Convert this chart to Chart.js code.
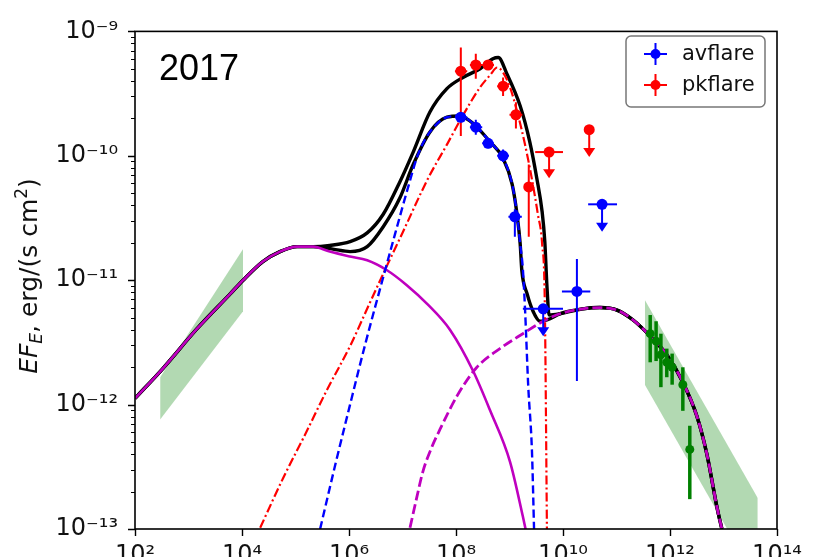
<!DOCTYPE html>
<html>
<head>
<meta charset="utf-8">
<script src="https://cdn.jsdelivr.net/npm/chart.js@4.4.0/dist/chart.umd.min.js"></script>
<style>
  html, body { margin: 0; padding: 0; background: #fff; overflow: hidden; }
  #wrap { width: 815px; height: 600px; }
</style>
</head>
<body>
<div id="wrap"><canvas id="sed" width="815" height="600"></canvas></div>
<script>
// all values are log10: energy in eV, flux EF_E in erg/(s cm^2)
const xTickExp = [2, 4, 6, 8, 10, 12, 14];
const yTickExp = [-13, -12, -11, -10, -9];
const yMinor = [2, 3, 4, 5, 6, 7, 8, 9];

// synchrotron (magenta solid)
const synLX = [2.00, 2.52, 3.16, 3.78, 4.02, 4.39, 4.71, 5.03, 5.33, 5.64, 6.02, 6.34, 6.71, 7.08, 7.46, 7.89, 8.32, 8.64, 9.01, 9.25, 9.31];
const synLY = [-11.95, -11.71, -11.39, -11.11, -11.00, -10.85, -10.77, -10.73, -10.73, -10.77, -10.81, -10.84, -10.92, -11.04, -11.19, -11.40, -11.73, -12.05, -12.46, -12.90, -13.02];

// SSC (magenta dashed)
const sscLX = [7.14, 7.27, 7.38, 7.55, 7.70, 8.02, 8.39, 8.82, 9.25, 9.63, 9.94, 10.37, 10.69, 11.01, 11.31, 11.63, 11.94, 12.24, 12.50, 12.69, 12.88, 12.97];
const sscLY = [-12.99, -12.74, -12.54, -12.34, -12.20, -11.93, -11.70, -11.55, -11.43, -11.33, -11.27, -11.23, -11.22, -11.24, -11.32, -11.45, -11.60, -11.82, -12.09, -12.40, -12.83, -13.00];

// external Compton, average flare (blue dashed)
const ecAvLX = [5.46, 5.74, 6.02, 6.30, 6.58, 6.86, 7.10, 7.29, 7.51, 7.83, 8.07, 8.32, 8.64, 8.88, 9.05, 9.14, 9.20, 9.25, 9.29, 9.35, 9.42, 9.46];
const ecAvLY = [-13.00, -12.49, -12.00, -11.52, -11.07, -10.63, -10.26, -9.99, -9.81, -9.69, -9.68, -9.74, -9.89, -10.02, -10.23, -10.47, -10.71, -10.91, -11.23, -11.85, -12.38, -13.02];

// external Compton, peak flare (red dash-dot)
const ecPkLX = [4.34, 4.77, 5.18, 5.59, 6.02, 6.36, 6.67, 7.01, 7.48, 7.83, 8.11, 8.45, 8.64, 8.77, 8.88, 9.01, 9.14, 9.29, 9.42, 9.53, 9.61, 9.66, 9.70];
const ecPkLY = [-12.99, -12.59, -12.24, -11.88, -11.53, -11.21, -10.92, -10.61, -10.18, -9.91, -9.69, -9.45, -9.35, -9.29, -9.33, -9.45, -9.64, -9.91, -10.19, -10.47, -10.71, -11.19, -13.02];

// total models (black)
const totPkLX = [2.00, 2.52, 3.16, 3.78, 4.02, 4.39, 4.71, 5.03, 5.33, 5.64, 6.02, 6.34, 6.64, 6.95, 7.20, 7.51, 7.83, 8.13, 8.45, 8.69, 8.79, 8.95, 9.20, 9.38, 9.51, 9.61, 9.66, 9.70, 9.74, 9.94, 10.37, 10.69, 11.01, 11.31, 11.63, 11.94, 12.24, 12.50, 12.69, 12.88, 12.97];
const totPkLY = [-11.95, -11.71, -11.39, -11.11, -11.00, -10.85, -10.77, -10.73, -10.73, -10.72, -10.69, -10.62, -10.47, -10.21, -9.97, -9.65, -9.46, -9.37, -9.30, -9.22, -9.21, -9.34, -9.60, -9.89, -10.18, -10.45, -10.69, -11.05, -11.28, -11.27, -11.23, -11.22, -11.24, -11.32, -11.45, -11.60, -11.82, -12.09, -12.40, -12.83, -13.00];
const totAvLX = [2.00, 2.52, 3.16, 3.78, 4.02, 4.39, 4.71, 5.03, 5.33, 5.70, 6.02, 6.34, 6.64, 6.95, 7.20, 7.51, 7.83, 8.07, 8.32, 8.64, 8.88, 9.05, 9.14, 9.20, 9.23, 9.33, 9.44, 9.57, 9.76, 9.94, 10.37, 10.69, 11.01, 11.31, 11.63, 11.94, 12.24, 12.50, 12.69, 12.88, 12.97];
const totAvLY = [-11.95, -11.71, -11.39, -11.11, -11.00, -10.85, -10.77, -10.73, -10.73, -10.75, -10.77, -10.73, -10.57, -10.34, -10.07, -9.81, -9.69, -9.68, -9.74, -9.89, -10.02, -10.23, -10.47, -10.71, -10.92, -11.11, -11.25, -11.33, -11.31, -11.27, -11.23, -11.22, -11.24, -11.32, -11.45, -11.60, -11.82, -12.09, -12.40, -12.83, -13.00];

// green bow-ties
const bowLeftLX = [2.47, 4.02];
const bowLeftUp = [-11.78, -10.75];
const bowLeftLo = [-12.12, -11.25];
const bowRightLX = [11.53, 13.64];
const bowRightUp = [-11.16, -12.75];
const bowRightLo = [-11.84, -13.43];

// avflare points
const avLX = [8.09, 8.37, 8.60, 8.88, 9.10, 10.26];
const avLY = [-9.69, -9.77, -9.90, -10.00, -10.49, -11.09];
const avXlo = [7.98, 8.26, 8.49, 8.77, 8.98, 9.98];
const avXhi = [8.21, 8.49, 8.71, 8.99, 9.23, 10.51];
const avYlo = [-9.73, -9.83, -9.94, -10.05, -10.65, -11.81];
const avYhi = [-9.65, -9.71, -9.86, -9.95, -10.43, -10.83];
const avUlLX = [9.63, 10.73];
const avUlLY = [-11.23, -10.39];
const avUlXlo = [9.25, 10.47];
const avUlXhi = [10.00, 11.01];
const avUlTip = [-11.45, -10.61];

// pkflare points
const pkLX = [8.09, 8.37, 8.60, 8.88, 9.12, 9.36];
const pkLY = [-9.32, -9.27, -9.27, -9.44, -9.67, -10.25];
const pkXlo = [7.98, 8.26, 8.49, 8.77, 9.00, 9.30];
const pkXhi = [8.21, 8.49, 8.71, 8.99, 9.24, 9.43];
const pkYlo = [-9.84, -9.38, -9.30, -9.52, -9.78, -10.65];
const pkYhi = [-9.13, -9.18, -9.24, -9.37, -9.57, -10.07];
const pkUlLX = [9.74, 10.49];
const pkUlLY = [-9.97, -9.79];
const pkUlXlo = [9.48, null];
const pkUlXhi = [10.00, null];
const pkUlTip = [-10.18, -10.01];

// VHE points (green)
const vhLX = [11.63, 11.74, 11.83, 11.94, 12.04, 12.24, 12.37];
const vhLY = [-11.43, -11.49, -11.60, -11.66, -11.70, -11.84, -12.36];
const vhYlo = [-11.66, -11.65, -11.86, -11.78, -11.84, -12.05, -12.76];
const vhYhi = [-11.28, -11.33, -11.43, -11.55, -11.59, -11.70, -12.17];

const toPts = (lx, ly) => lx.map((v, i) => ({ x: 10 ** v, y: 10 ** ly[i] }));

const supMap = { '-': '\u207b', '0': '\u2070', '1': '\u00b9', '2': '\u00b2', '3': '\u00b3', '4': '\u2074', '5': '\u2075', '6': '\u2076', '7': '\u2077', '8': '\u2078', '9': '\u2079' };
const powLabel = v => '10' + String(Math.round(Math.log10(v))).split('').map(c => supMap[c]).join('');

function curve(lx, ly, color, width, dash, order) {
  return {
    data: toPts(lx, ly), borderColor: color, borderWidth: width, borderDash: dash,
    pointRadius: 0, fill: false, cubicInterpolationMode: 'monotone', order: order
  };
}

function points(lx, ly, color, r, err) {
  return {
    data: toPts(lx, ly), showLine: false, pointRadius: r, pointBorderWidth: 0,
    backgroundColor: color, borderColor: color, order: 0, err: err
  };
}

const green = 'rgba(0, 128, 0, 0.3)';

// error bars and upper-limit arrows, drawn under each marker dataset
const errBars = {
  id: 'errBars',
  beforeDatasetDraw(chart, args) {
    const ds = chart.data.datasets[args.index];
    const e = ds.err;
    if (!e) return;
    const sx = chart.scales.x, sy = chart.scales.y, ctx = chart.ctx;
    ctx.save();
    ctx.strokeStyle = ds.backgroundColor;
    ctx.fillStyle = ds.backgroundColor;
    ctx.lineWidth = e.width;
    ds.data.forEach((p, i) => {
      const px = sx.getPixelForValue(p.x), py = sy.getPixelForValue(p.y);
      ctx.beginPath();
      if (e.xlo && e.xlo[i] != null) {
        ctx.moveTo(sx.getPixelForValue(10 ** e.xlo[i]), py);
        ctx.lineTo(sx.getPixelForValue(10 ** e.xhi[i]), py);
      }
      if (e.ylo && e.ylo[i] != null) {
        ctx.moveTo(px, sy.getPixelForValue(10 ** e.ylo[i]));
        ctx.lineTo(px, sy.getPixelForValue(10 ** e.yhi[i]));
      }
      ctx.stroke();
      if (e.tip) {
        const ty = sy.getPixelForValue(10 ** e.tip[i]);
        ctx.beginPath();
        ctx.moveTo(px, py);
        ctx.lineTo(px, ty - 6);
        ctx.stroke();
        ctx.beginPath();
        ctx.moveTo(px - 6, ty - 9);
        ctx.lineTo(px + 6, ty - 9);
        ctx.lineTo(px, ty);
        ctx.closePath();
        ctx.fill();
      }
    });
    ctx.restore();
  }
};

// frame, tick marks, y title, year and legend
const decor = {
  id: 'decor',
  afterDraw(chart) {
    const ctx = chart.ctx, a = chart.chartArea;
    const sx = chart.scales.x, sy = chart.scales.y;
    ctx.save();
    ctx.strokeStyle = '#000';
    ctx.lineWidth = 1.6;
    ctx.strokeRect(a.left, a.top, a.right - a.left, a.bottom - a.top);

    ctx.lineWidth = 1.4;
    ctx.beginPath();
    xTickExp.forEach(e => {
      const px = Math.round(sx.getPixelForValue(10 ** e)) + 0.5;
      ctx.moveTo(px, a.bottom); ctx.lineTo(px, a.bottom + 7);
    });
    yTickExp.forEach(e => {
      const py = Math.round(sy.getPixelForValue(10 ** e)) + 0.5;
      ctx.moveTo(a.left, py); ctx.lineTo(a.left - 7, py);
    });
    ctx.stroke();
    ctx.lineWidth = 1.1;
    ctx.beginPath();
    yTickExp.slice(0, -1).forEach(e => {
      yMinor.forEach(m => {
        const py = Math.round(sy.getPixelForValue(m * 10 ** e)) + 0.5;
        ctx.moveTo(a.left, py); ctx.lineTo(a.left - 4, py);
      });
    });
    ctx.stroke();

    // y axis title
    ctx.fillStyle = '#111';
    ctx.textBaseline = 'alphabetic';
    const parts = [
      { t: 'EF', f: 'italic 25px "DejaVu Sans"', dy: 0 },
      { t: 'E', f: 'italic 17px "DejaVu Sans"', dy: 5 },
      { t: ', erg/(s cm', f: '25px "DejaVu Sans"', dy: 0 },
      { t: '2', f: '17px "DejaVu Sans"', dy: -10 },
      { t: ')', f: '25px "DejaVu Sans"', dy: 0 }
    ];
    let total = 0;
    parts.forEach(p => { ctx.font = p.f; p.w = ctx.measureText(p.t).width; total += p.w; });
    ctx.save();
    ctx.translate(37, 276);
    ctx.rotate(-Math.PI / 2);
    let cx = -total / 2;
    parts.forEach(p => { ctx.font = p.f; ctx.fillText(p.t, cx, p.dy); cx += p.w; });
    ctx.restore();

    // year
    ctx.font = '36px "Liberation Sans"';
    ctx.fillStyle = '#000';
    ctx.fillText('2017', 159, 80);

    // legend
    const lx = 626, ly = 36, lw = 139, lh = 71;
    ctx.fillStyle = 'rgba(255,255,255,0.85)';
    ctx.strokeStyle = '#777';
    ctx.lineWidth = 1.5;
    ctx.beginPath();
    ctx.roundRect(lx, ly, lw, lh, 5);
    ctx.fill();
    ctx.stroke();
    [['avflare', '#0000ff', 54], ['pkflare', '#ff0000', 85]].forEach(([name, col, y]) => {
      ctx.strokeStyle = col;
      ctx.fillStyle = col;
      ctx.lineWidth = 2;
      ctx.beginPath();
      ctx.moveTo(644, y); ctx.lineTo(667, y);
      ctx.moveTo(655.5, y - 11); ctx.lineTo(655.5, y + 11);
      ctx.stroke();
      ctx.beginPath();
      ctx.arc(655.5, y, 5, 0, Math.PI * 2);
      ctx.fill();
      ctx.fillStyle = '#111';
      ctx.font = '21px "DejaVu Sans"';
      ctx.textBaseline = 'middle';
      ctx.fillText(name, 682, y + 1);
    });
    ctx.restore();
  }
};

const tickFont = { family: 'DejaVu Sans', size: 24 };

new Chart(document.getElementById('sed'), {
  type: 'line',
  data: {
    datasets: [
      points(avLX, avLY, '#0000ff', 5.5, { width: 2, xlo: avXlo, xhi: avXhi, ylo: avYlo, yhi: avYhi }),
      points(avUlLX, avUlLY, '#0000ff', 5.5, { width: 2, xlo: avUlXlo, xhi: avUlXhi, tip: avUlTip }),
      points(pkLX, pkLY, '#ff0000', 5.5, { width: 2, xlo: pkXlo, xhi: pkXhi, ylo: pkYlo, yhi: pkYhi }),
      points(pkUlLX, pkUlLY, '#ff0000', 5.5, { width: 2, xlo: pkUlXlo, xhi: pkUlXhi, tip: pkUlTip }),
      points(vhLX, vhLY, '#008000', 4.5, { width: 3.5, ylo: vhYlo, yhi: vhYhi }),
      curve(ecAvLX, ecAvLY, '#0000ff', 2.4, [8, 4], 4),
      curve(ecPkLX, ecPkLY, '#ff0000', 2.2, [9, 3, 2, 3], 4),
      curve(synLX, synLY, '#bf00bf', 2.6, [], 5),
      curve(sscLX, sscLY, '#bf00bf', 2.8, [10, 4], 5),
      curve(totPkLX, totPkLY, '#000000', 3.4, [], 8),
      curve(totAvLX, totAvLY, '#000000', 3.4, [], 8),
      { data: toPts(bowLeftLX, bowLeftUp), borderWidth: 0, pointRadius: 0, fill: false, order: 20 },
      { data: toPts(bowLeftLX, bowLeftLo), borderWidth: 0, pointRadius: 0, fill: '-1', backgroundColor: green, order: 20 },
      { data: toPts(bowRightLX, bowRightUp), borderWidth: 0, pointRadius: 0, fill: false, order: 20 },
      { data: toPts(bowRightLX, bowRightLo), borderWidth: 0, pointRadius: 0, fill: '-1', backgroundColor: green, order: 20 }
    ]
  },
  options: {
    responsive: false,
    animation: false,
    events: [],
    layout: { padding: { top: 25, right: 38, left: 0, bottom: 0 } },
    plugins: { legend: { display: false }, tooltip: { enabled: false } },
    scales: {
      x: {
        type: 'logarithmic', min: 1e2, max: 1e14,
        afterFit: s => { s.height = 71; },
        afterBuildTicks: s => { s.ticks = xTickExp.map(e => ({ value: 10 ** e })); },
        grid: { display: false, drawTicks: false },
        border: { display: false },
        ticks: { autoSkip: false, maxRotation: 0, padding: 12, color: '#111', font: tickFont, callback: v => powLabel(v) }
      },
      y: {
        type: 'logarithmic', min: 1e-13, max: 1e-9,
        afterFit: s => { s.width = 135; },
        afterBuildTicks: s => { s.ticks = yTickExp.map(e => ({ value: 10 ** e })); },
        grid: { display: false, drawTicks: false },
        border: { display: false },
        ticks: { autoSkip: false, padding: 17, color: '#111', font: tickFont, callback: v => powLabel(v) }
      }
    }
  },
  plugins: [errBars, decor]
});
</script>
</body>
</html>
